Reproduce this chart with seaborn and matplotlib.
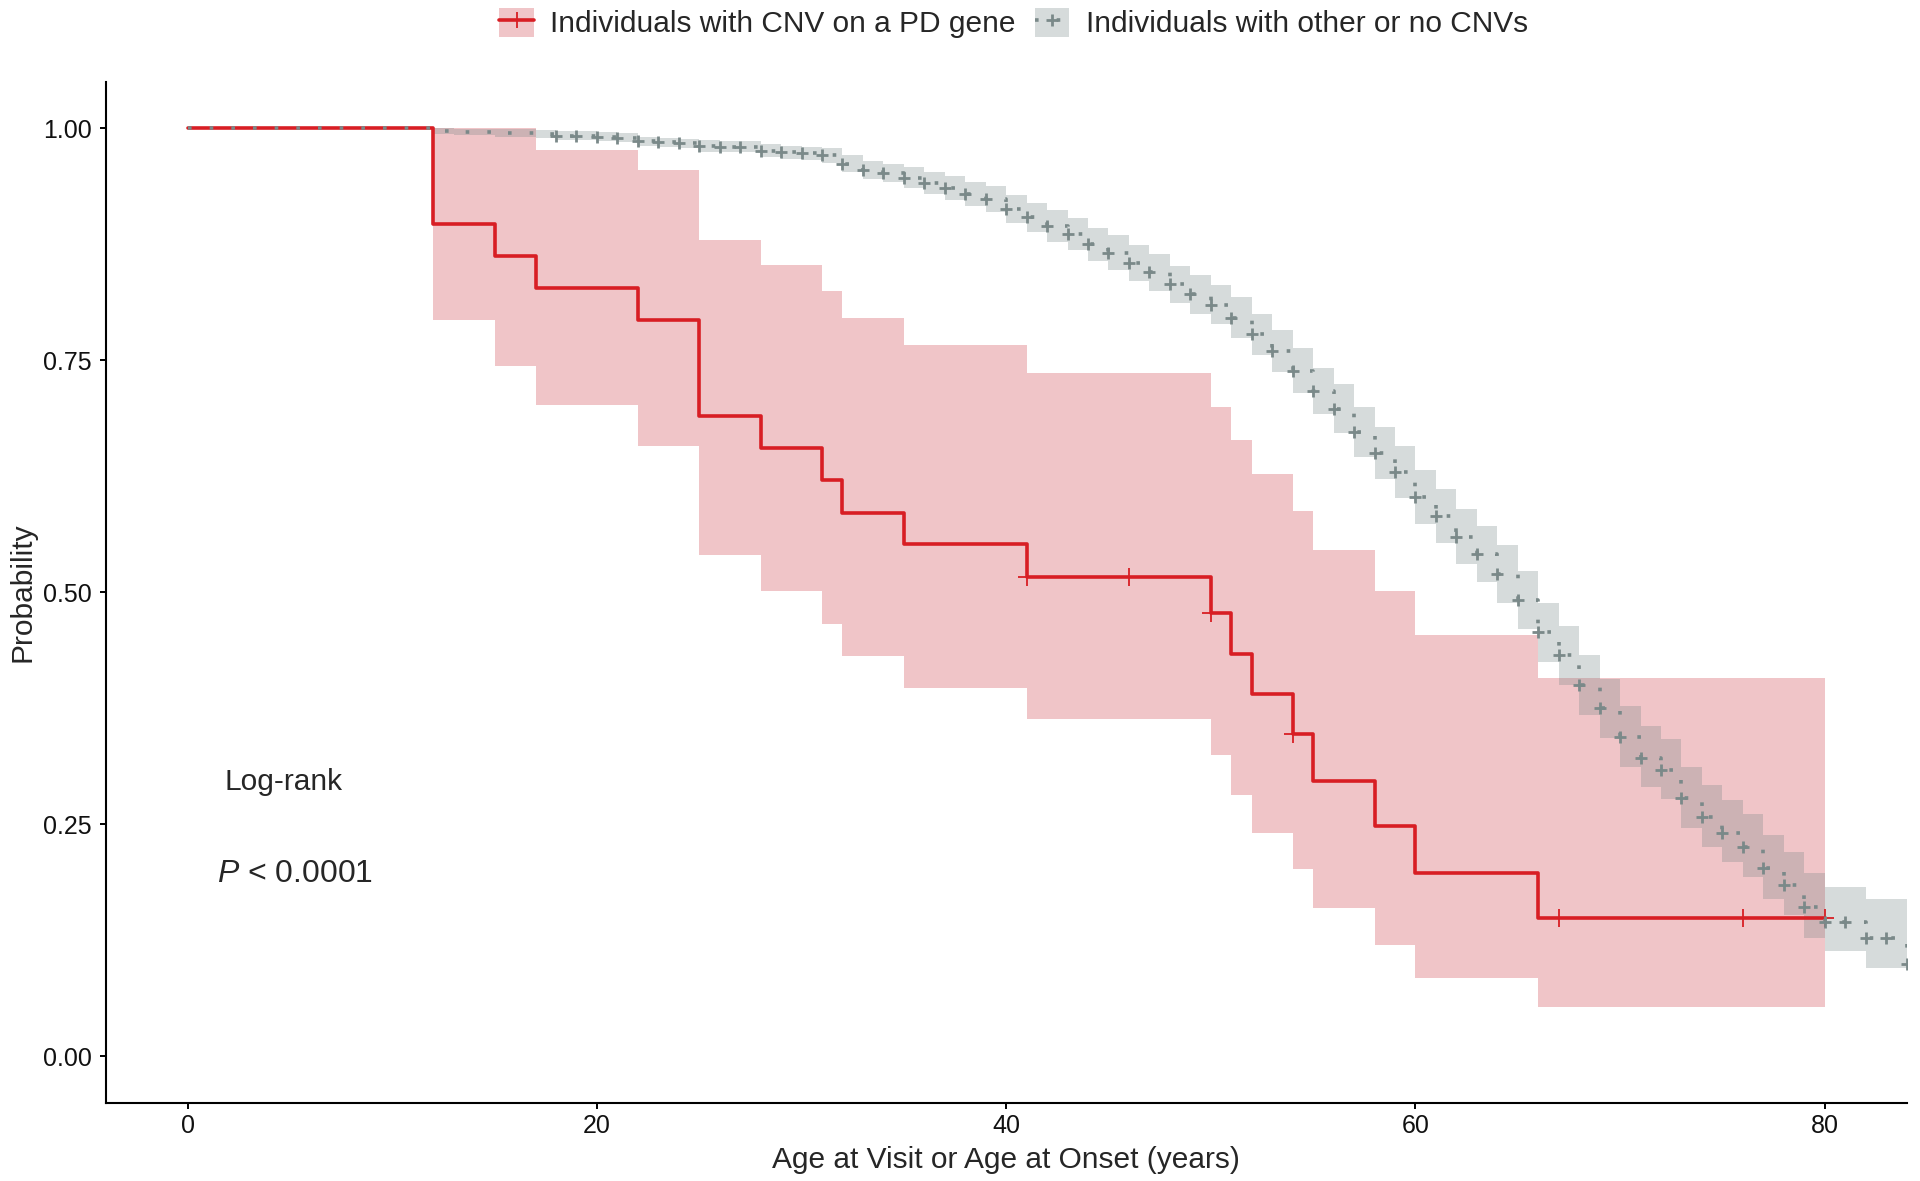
import numpy as np
import pandas as pd
import matplotlib.pyplot as plt
from matplotlib.patches import Patch
from matplotlib.lines import Line2D
from matplotlib.legend_handler import HandlerTuple
import seaborn as sns

# Kaplan-Meier estimate, individuals with a CNV on a PD gene
red_times = [0, 12, 15, 17, 22, 25, 28, 31, 32, 35, 41, 50, 51, 52, 54, 55, 58, 60, 66, 80]
red_surv = [1.0, 0.897, 0.862, 0.828, 0.793, 0.690, 0.655, 0.621, 0.586, 0.552,
            0.517, 0.478, 0.434, 0.390, 0.347, 0.297, 0.248, 0.198, 0.149, 0.149]
red_upper = [1.0, 1.0, 1.0, 0.977, 0.955, 0.880, 0.853, 0.825, 0.796, 0.766,
             0.736, 0.700, 0.664, 0.628, 0.588, 0.546, 0.501, 0.454, 0.408, 0.408]
red_lower = [1.0, 0.793, 0.744, 0.702, 0.658, 0.540, 0.501, 0.466, 0.431, 0.397,
             0.363, 0.325, 0.282, 0.241, 0.202, 0.160, 0.120, 0.084, 0.053, 0.053]
red_censor = [41, 46, 50, 54, 67, 76, 80]

# Kaplan-Meier estimate, individuals with other or no CNVs (one step per year of age)
gray_ages = list(range(0, 85))
gray_surv = [1.0] * 12 + [
    0.997, 0.996, 0.996, 0.995, 0.995, 0.994, 0.992, 0.992, 0.991, 0.990,
    0.986, 0.985, 0.984, 0.981, 0.980, 0.980, 0.976, 0.974, 0.973, 0.971,
    0.962, 0.955, 0.952, 0.947, 0.941, 0.936, 0.929, 0.924, 0.913, 0.904,
    0.895, 0.886, 0.875, 0.866, 0.855, 0.845, 0.832, 0.821, 0.810, 0.796,
    0.778, 0.760, 0.739, 0.717, 0.698, 0.673, 0.650, 0.630, 0.603, 0.582,
    0.560, 0.541, 0.520, 0.492, 0.457, 0.432, 0.400, 0.375, 0.344, 0.322,
    0.309, 0.278, 0.258, 0.241, 0.226, 0.203, 0.185, 0.161, 0.145, 0.145,
    0.127, 0.127, 0.100]
gray_upper = [1.0] * 12 + [
    1.000, 0.999, 0.999, 0.999, 0.999, 0.998, 0.997, 0.997, 0.996, 0.995,
    0.991, 0.990, 0.989, 0.987, 0.986, 0.986, 0.983, 0.981, 0.980, 0.979,
    0.971, 0.965, 0.962, 0.958, 0.953, 0.949, 0.942, 0.938, 0.928, 0.920,
    0.912, 0.903, 0.893, 0.885, 0.874, 0.865, 0.852, 0.842, 0.831, 0.818,
    0.800, 0.783, 0.763, 0.742, 0.724, 0.700, 0.678, 0.658, 0.632, 0.611,
    0.590, 0.571, 0.551, 0.523, 0.489, 0.464, 0.432, 0.407, 0.377, 0.356,
    0.342, 0.312, 0.292, 0.276, 0.261, 0.239, 0.220, 0.198, 0.182, 0.182,
    0.170, 0.170, 0.135]
gray_lower = [1.0] * 12 + [
    0.994, 0.993, 0.993, 0.991, 0.991, 0.990, 0.987, 0.987, 0.986, 0.985,
    0.981, 0.980, 0.979, 0.975, 0.974, 0.974, 0.969, 0.967, 0.966, 0.963,
    0.953, 0.945, 0.942, 0.936, 0.929, 0.923, 0.916, 0.910, 0.898, 0.888,
    0.878, 0.869, 0.857, 0.847, 0.836, 0.825, 0.812, 0.800, 0.789, 0.774,
    0.756, 0.737, 0.715, 0.692, 0.672, 0.646, 0.622, 0.602, 0.574, 0.553,
    0.530, 0.511, 0.489, 0.461, 0.425, 0.400, 0.368, 0.343, 0.312, 0.290,
    0.277, 0.246, 0.226, 0.209, 0.193, 0.170, 0.152, 0.128, 0.113, 0.113,
    0.095, 0.095, 0.070]
gray_censor = list(range(18, 85))

legend_labels = ['Individuals with CNV on a PD gene', 'Individuals with other or no CNVs']
x_ticks = [0, 20, 40, 60, 80]
y_ticks = [0.0, 0.25, 0.50, 0.75, 1.00]
y_tick_labels = ['0.00', '0.25', '0.50', '0.75', '1.00']

red = '#D81E24'
pink = '#F0C5C8'
gray = '#7A8989'


def step_value(times, values, t):
    """Survival value of a right-continuous step curve at time t"""
    idx = np.searchsorted(times, t, side='right') - 1
    return values[idx]


red_df = pd.DataFrame({'time': red_times, 'surv': red_surv})
gray_df = pd.DataFrame({'time': gray_ages, 'surv': gray_surv})
red_cens_df = pd.DataFrame({'time': red_censor,
                            'surv': [step_value(red_times, red_surv, t) for t in red_censor]})
gray_cens_df = pd.DataFrame({'time': gray_censor,
                             'surv': [step_value(gray_ages, gray_surv, t) for t in gray_censor]})

sns.set_theme(style="ticks")
plt.rcParams['font.family'] = ['Liberation Sans', 'DejaVu Sans']
plt.rcParams['mathtext.fontset'] = 'custom'
plt.rcParams['mathtext.it'] = 'Liberation Sans:italic'
plt.rcParams['mathtext.rm'] = 'Liberation Sans'

fig = plt.figure(figsize=(19.2, 11.81), dpi=100)
ax = fig.add_axes([0.0551, 0.0663, 0.9379, 0.8643])

# confidence bands
ax.fill_between(red_times, red_lower, red_upper, step='post',
                color=pink, linewidth=0, zorder=1)
ax.fill_between(gray_ages, gray_lower, gray_upper, step='post',
                color=gray, alpha=0.3, linewidth=0, zorder=2)

# survival curves
sns.lineplot(data=red_df, x='time', y='surv', drawstyle='steps-post', sort=False,
             estimator=None, color=red, linewidth=2.6, ax=ax, zorder=3)
sns.lineplot(data=gray_df, x='time', y='surv', drawstyle='steps-post', sort=False,
             estimator=None, color=gray, linewidth=2.6, linestyle=(0, (1, 5)),
             ax=ax, zorder=4)

# censoring marks
sns.scatterplot(data=red_cens_df, x='time', y='surv', marker='+', s=150,
                linewidth=1.3, color=red, ax=ax, zorder=5)
sns.scatterplot(data=gray_cens_df, x='time', y='surv', marker='+', s=80,
                linewidth=2.0, color=gray, ax=ax, zorder=6)

ax.text(4.68, 0.2866, 'Log-rank', fontsize=21.5, ha='center', va='baseline')
ax.text(5.24, 0.1873, r'$P$ < 0.0001', fontsize=23, ha='center', va='baseline')

ax.set_xlim(-4, 84)
ax.set_ylim(-0.05, 1.05)
ax.set_xticks(x_ticks)
ax.set_yticks(y_ticks)
ax.set_yticklabels(y_tick_labels)
ax.set_xlabel('Age at Visit or Age at Onset (years)', fontsize=21.5, labelpad=6)
ax.set_ylabel('Probability', fontsize=21.5, labelpad=5)
ax.tick_params(axis='both', length=4, width=1.4, color='black',
               labelsize=18, labelcolor='#111111')
ax.tick_params(axis='x', pad=4)
ax.tick_params(axis='y', pad=6)
sns.despine(ax=ax)
for side in ['left', 'bottom']:
    ax.spines[side].set_linewidth(1.5)
    ax.spines[side].set_color('black')

h1 = (Patch(facecolor=pink, edgecolor='none'),
      Line2D([], [], color=red, lw=2.6, marker='+', markersize=12, mew=1.3))
h2 = (Patch(facecolor=gray, alpha=0.3, edgecolor='none'),
      Line2D([], [], color=gray, lw=2.6, ls=(0, (1, 5)), marker='+',
             markersize=9, mew=2.0))
fig.legend([h1, h2], legend_labels,
           handler_map={tuple: HandlerTuple(ndivide=1, pad=0)},
           loc='center', bbox_to_anchor=(0.528, 0.9805), ncol=2, frameon=False,
           fontsize=21.5, handlelength=1.15, handleheight=1.15,
           handletextpad=0.55, columnspacing=0.65)

fig.savefig('out.png', dpi=100)
